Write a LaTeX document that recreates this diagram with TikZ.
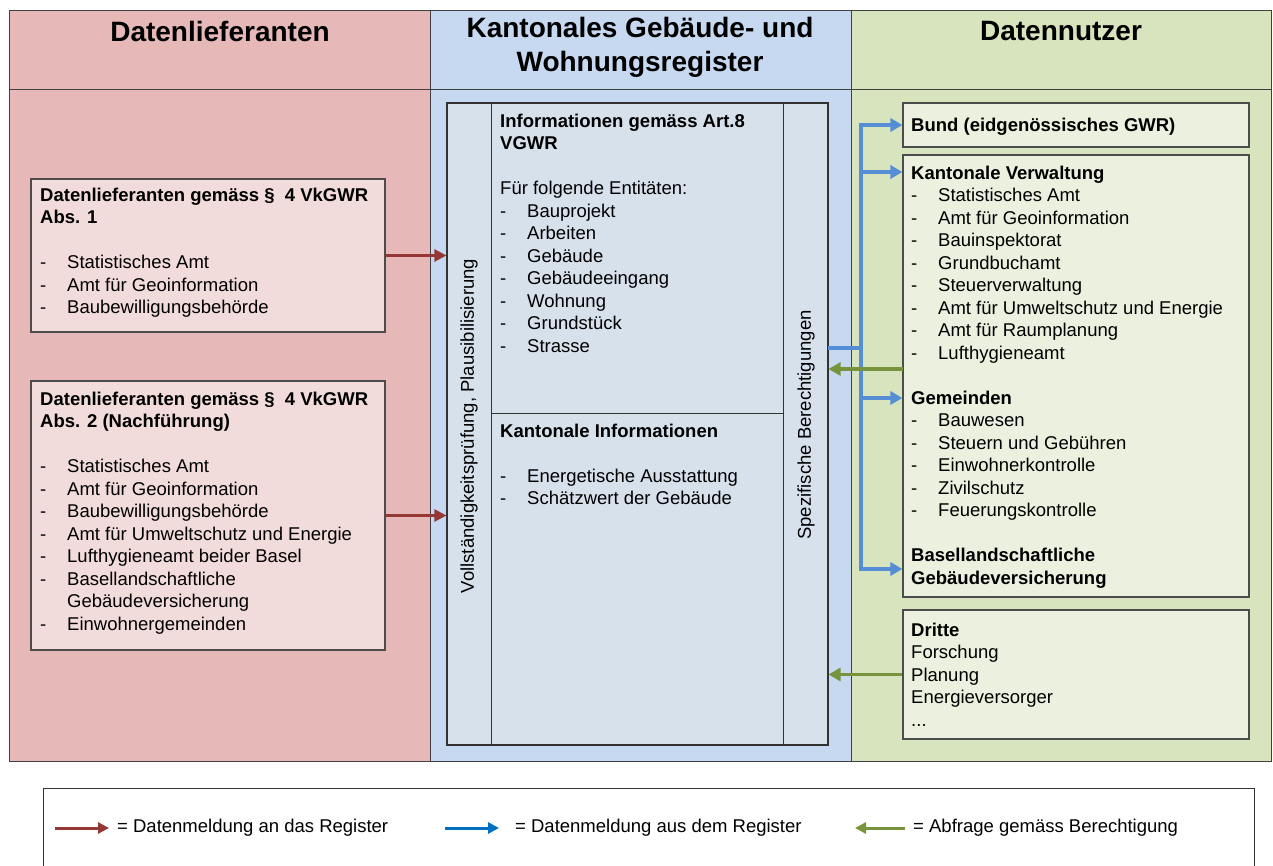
\documentclass[tikz,border=0pt]{standalone}
\usepackage{fontspec}
\setmainfont{Liberation Sans}
\usetikzlibrary{arrows.meta}

\definecolor{panelred}{HTML}{E6B9B8}
\definecolor{panelblue}{HTML}{C6D9F1}
\definecolor{panelgreen}{HTML}{D7E4BD}
\definecolor{boxred}{HTML}{F2DCDB}
\definecolor{boxblue}{HTML}{D7E1EC}
\definecolor{boxgreen}{HTML}{EBF1DE}
\definecolor{arrred}{HTML}{953735}
\definecolor{arrblue}{HTML}{558ED5}
\definecolor{arrgreen}{HTML}{77933C}
\definecolor{legblue}{HTML}{0070C0}

\newcommand{\li}[1]{\makebox[27pt][l]{-}#1}

\begin{document}
\begin{tikzpicture}[
    x=1pt, y=-1pt,
    panelline/.style={draw=black!75, line width=0.9pt},
    boxline/.style={draw=black!80, line width=1pt},
    headtext/.style={font=\fontsize{28}{34}\selectfont\bfseries, inner sep=0pt},
    bodytext/.style={font=\fontsize{18.5}{22.5}\selectfont, inner sep=0pt},
    txt/.style={bodytext, anchor=north west, align=left},
    legtext/.style={font=\fontsize{18.5}{22}\selectfont, anchor=west, inner sep=0pt},
    redbox/.style={draw=black!70, fill=boxred, line width=1.1pt, inner sep=0pt},
    regbox/.style={draw=black!80, fill=boxblue, line width=1.1pt, inner sep=0pt},
    greenbox/.style={draw=black!70, fill=boxgreen, line width=1.1pt, inner sep=0pt},
    redarrow/.style={draw=arrred, line width=2.4pt, -{Triangle[length=12pt,width=12pt]}},
    bluearrow/.style={draw=arrblue, line width=3.5pt, -{Triangle[length=12pt,width=13pt]}},
    blueline/.style={draw=arrblue, line width=3.5pt},
    greenarrow/.style={draw=arrgreen, line width=3.5pt, -{Triangle[length=12pt,width=13pt]}},
    legarrow/.style={line width=3pt, -{Triangle[length=11pt,width=11pt]}},
]
\useasboundingbox (0,0) rectangle (1273,866);

% === Panels ===
\fill[panelred] (9,10) rectangle (430,761);
\fill[panelblue] (430,10) rectangle (851,761);
\fill[panelgreen] (851,10) rectangle (1271,761);
\draw[panelline] (9,10) rectangle (1271,761);
\draw[panelline] (9,89) -- (1271,89);
\draw[panelline] (430,10) -- (430,761);
\draw[panelline] (851,10) -- (851,761);

% === Headers ===
\node[headtext] (hleft) at (220,31) {Datenlieferanten};
\node[headtext, align=center] (hmid) at (640,47) {Kantonales Gebäude- und\\Wohnungsregister};
\node[headtext] (hright) at (1061,31) {Datennutzer};

% === Datenlieferanten boxes ===
\node[redbox, minimum width=354, minimum height=153] (abs1) at (208,255.5) {};
\node[txt] (abs1txt) at (40,185.5) {\strut\textbf{Datenlieferanten gemäss §~~4 VkGWR}\\
    \textbf{Abs. 1}\\[22.5pt]
    \li{Statistisches Amt}\\
    \li{Amt für Geoinformation}\\
    \li{Baubewilligungsbehörde}};

\node[redbox, minimum width=354, minimum height=269] (abs2) at (208,515.5) {};
\node[txt] (abs2txt) at (40,389.5) {\strut\textbf{Datenlieferanten gemäss §~~4 VkGWR}\\
    \textbf{Abs. 2 (Nachführung)}\\[22.5pt]
    \li{Statistisches Amt}\\
    \li{Amt für Geoinformation}\\
    \li{Baubewilligungsbehörde}\\
    \li{Amt für Umweltschutz und Energie}\\
    \li{Lufthygieneamt beider Basel}\\
    \li{Basellandschaftliche}\\
    \hspace*{27pt}Gebäudeversicherung\\
    \li{Einwohnergemeinden}};

% === Register ===
\node[regbox, minimum width=381, minimum height=642] (reg) at (637.5,424) {};
\draw[boxline] (491,103) -- (491,745);
\draw[boxline] (783,103) -- (783,745);
\draw[boxline] (491,413) -- (783,413);

\node[bodytext, rotate=90] (vpruef) at (469,426) {Vollständigkeitsprüfung, Plausibilisierung};
\node[bodytext, rotate=90] (berecht) at (806,425) {Spezifische Berechtigungen};

\node[txt] (arttxt) at (500,111.5) {\strut\textbf{Informationen gemäss Art.8}\\
    \textbf{VGWR}\\[22.5pt]
    Für folgende Entitäten:\\
    \li{Bauprojekt}\\
    \li{Arbeiten}\\
    \li{Gebäude}\\
    \li{Gebäudeeingang}\\
    \li{Wohnung}\\
    \li{Grundstück}\\
    \li{Strasse}};

\node[txt] (kanttxt) at (500,421.5) {\strut\textbf{Kantonale Informationen}\\[22.5pt]
    \li{Energetische Ausstattung}\\
    \li{Schätzwert der Gebäude}};

% === Datennutzer boxes ===
\node[greenbox, minimum width=346, minimum height=44] (bund) at (1076,125) {};
\node[txt] (bundtxt) at (911,115.5) {\strut\textbf{Bund (eidgenössisches GWR)}};

\node[greenbox, minimum width=346, minimum height=442] (kant) at (1076,376) {};
\node[txt] (kanttxt2) at (911,163.5) {\strut\textbf{Kantonale Verwaltung}\\
    \li{Statistisches Amt}\\
    \li{Amt für Geoinformation}\\
    \li{Bauinspektorat}\\
    \li{Grundbuchamt}\\
    \li{Steuerverwaltung}\\
    \li{Amt für Umweltschutz und Energie}\\
    \li{Amt für Raumplanung}\\
    \li{Lufthygieneamt}\\[22.5pt]
    \textbf{Gemeinden}\\
    \li{Bauwesen}\\
    \li{Steuern und Gebühren}\\
    \li{Einwohnerkontrolle}\\
    \li{Zivilschutz}\\
    \li{Feuerungskontrolle}\\[22.5pt]
    \textbf{Basellandschaftliche}\\
    \textbf{Gebäudeversicherung}};

\node[greenbox, minimum width=346, minimum height=129] (dritte) at (1076,674.5) {};
\node[txt] (drittetxt) at (911,620.5) {\strut\textbf{Dritte}\\
    Forschung\\
    Planung\\
    Energieversorger\\
    ...};

% === Datenmeldung an das Register ===
\draw[redarrow] (abs1.east) -- (abs1.east -| reg.west);
\draw[redarrow] (abs2.east) -- (abs2.east -| reg.west);

% === Datenmeldung aus dem Register ===
\coordinate (bstart) at (828,348);
\coordinate (bjoin) at (861,348);
\coordinate (t1) at (861,125);
\coordinate (t2) at (861,172);
\coordinate (t3) at (861,398);
\coordinate (t4) at (861,569);
\draw[blueline] (bstart) -- (bjoin);
\draw[blueline] ([yshift=1.75pt]t1) -- ([yshift=-1.75pt]t4);
\draw[bluearrow] (t1) -- (bund.west);
\draw[bluearrow] (t2) -- (t2 -| kant.west);
\draw[bluearrow] (t3) -- (t3 -| kant.west);
\draw[bluearrow] (t4) -- (t4 -| kant.west);

% === Abfrage gemäss Berechtigung ===
\coordinate (g1) at (903,369);
\draw[greenarrow] (g1) -- (g1 -| reg.east);
\draw[greenarrow] (dritte.west) -- (dritte.west -| reg.east);

% === Legend ===
\draw[draw=black!80, line width=0.9pt] (43,866) -- (43,788) -- (1254,788) -- (1254,866);
\node[legtext] (lgred) at (117,828) {= Datenmeldung an das Register};
\node[legtext] (lgblue) at (515,828) {= Datenmeldung aus dem Register};
\node[legtext] (lggreen) at (913,828) {= Abfrage gemäss Berechtigung};
\coordinate (lr) at (55,828);
\coordinate (lb) at (445,828);
\coordinate (lg) at (855,828);
\draw[legarrow, draw=arrred] (lr) -- ([xshift=-8pt]lgred.west);
\draw[legarrow, draw=legblue] (lb) -- ([xshift=-16pt]lgblue.west);
\draw[legarrow, draw=arrgreen] ([xshift=-8pt]lggreen.west) -- (lg);

\end{tikzpicture}
\end{document}
